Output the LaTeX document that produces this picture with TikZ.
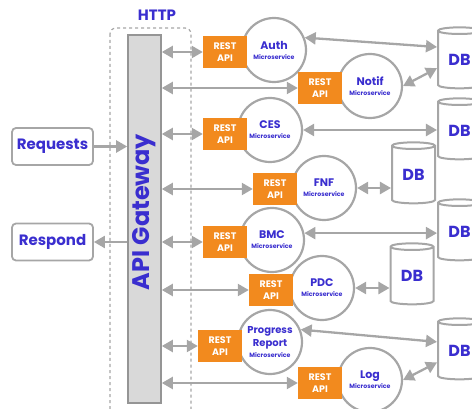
\documentclass[tikz,border=0pt]{standalone}
\usepackage{fontspec}
\setmainfont{Poppins}
\usepackage{tikz}
\usetikzlibrary{positioning,arrows.meta,shapes.geometric,calc}
\definecolor{cBlue}  {HTML}{3A2ECF}
\definecolor{cOrange}{HTML}{F28A1E}
\definecolor{cGray}  {HTML}{A6A6A6}
\definecolor{cBar}   {HTML}{D9D9D9}
\tikzset{
  >={Triangle[length=11pt,width=12pt]},
  sreq/.style={draw=cGray,line width=1.8pt,rounded corners=4pt,fill=white,
               minimum width=81pt,minimum height=37pt,text=cBlue,
               font=\bfseries\fontsize{15}{17}\selectfont},
  sapi/.style={fill=cOrange,text=white,align=center,minimum width=44pt,
               minimum height=32pt,inner sep=0pt,
               font=\bfseries\fontsize{9.5}{12}\selectfont},
  ssvc/.style={circle,draw=cGray,line width=2.2pt,fill=white,minimum size=64pt,
               inner sep=0pt,align=center,text=cBlue,
               font=\bfseries\fontsize{11}{12}\selectfont},
  sdb/.style ={cylinder,shape border rotate=90,aspect=0.3,draw=cGray,
               line width=2pt,fill=white,minimum width=43pt,minimum height=61pt,
               inner sep=0pt,text=cBlue,font=\bfseries\fontsize{16}{16}\selectfont},
  sar/.style ={<->,line width=2.3pt,cGray},
}
\newcommand{\msub}{\\[-2pt]{\fontsize{6.2}{7}\selectfont Microservice}}

\begin{document}
\begin{tikzpicture}[x=1pt,y=-1pt]
    \useasboundingbox (0,0) rectangle (472,409);
    \clip (0,0) rectangle (472,409);
    % gateway
    \draw[cGray,dashed,line width=1.2pt,rounded corners=6pt] (110,28) rectangle (191,430);
    \node[text=cBlue,font=\bfseries\fontsize{15}{17}\selectfont] (http) at (157,15) {HTTP};
    \node[draw=cGray!90!black,fill=cBar,line width=1.6pt,minimum width=33pt,minimum height=368pt] (gw) at (144.5,219) {};
    \node[rotate=90,text=cBlue,font=\bfseries\fontsize{24}{26}\selectfont] (gwl) at (144,212) {API Gateway};
    \node[sreq] (req) at (52.5,146.5) {Requests};
    \node[sreq] (resp) at (52.5,242) {Respond};
    % services
    \node[ssvc] (auth) at (274,50) {Auth\msub};
    \node[ssvc] (notif) at (370,86) {Notif\msub};
    \node[ssvc] (ces) at (270,130) {CES\msub};
    \node[ssvc] (fnf) at (324,188) {FNF\msub};
    \node[ssvc] (bmc) at (272,240) {BMC\msub};
    \node[ssvc] (pdc) at (322,288) {PDC\msub};
    \node[ssvc,font=\bfseries\fontsize{10}{13}\selectfont] (prog) at (270,342) {Progress\\Report\msub};
    \node[ssvc] (log) at (370,380) {Log\msub};
    \node[sapi] (r1) at (225,52) {REST\\API};
    \node[sapi] (r2) at (320,88) {REST\\API};
    \node[sapi] (r3) at (225,134) {REST\\API};
    \node[sapi] (r4) at (275,189) {REST\\API};
    \node[sapi] (r5) at (225,242) {REST\\API};
    \node[sapi] (r6) at (271,290) {REST\\API};
    \node[sapi] (r7) at (220,346) {REST\\API};
    \node[sapi] (r8) at (320,383) {REST\\API};
    % databases
    \node[sdb] (db1) at (459.5,60) {DB};
    \node[sdb] (db2) at (459.5,131) {DB};
    \node[sdb] (db3) at (413.5,175) {DB};
    \node[sdb] (db4) at (459.5,232) {DB};
    \node[sdb] (db5) at (412,276) {DB};
    \node[sdb] (db6) at (459.5,351) {DB};
    % arrows
    \draw[sar,<-] (req.east -| gw.west) -- (req.east);
    \draw[sar,->] (resp.east -| gw.west) -- (resp.east);
    \foreach \r in {r1,r2,r3,r4,r5,r6,r7,r8}
      \draw[sar] (\r.west -| gw.east) -- (\r.west);
    \draw[sar] (auth.22) -- (db1.150);
    \draw[sar] (notif.east) -- (db1.200);
    \draw[sar] (ces.east) -- (ces.east -| db2.west);
    \draw[sar] (fnf.east) -- (fnf.east -| db3.west);
    \draw[sar] (bmc.12) -- (bmc.12 -| db4.west);
    \draw[sar] (pdc.east) -- (pdc.east -| db5.west);
    \draw[sar] (prog.22) -- (db6.158);
    \draw[sar] (log.east) -- (db6.207);
  \end{tikzpicture}
\end{document}
